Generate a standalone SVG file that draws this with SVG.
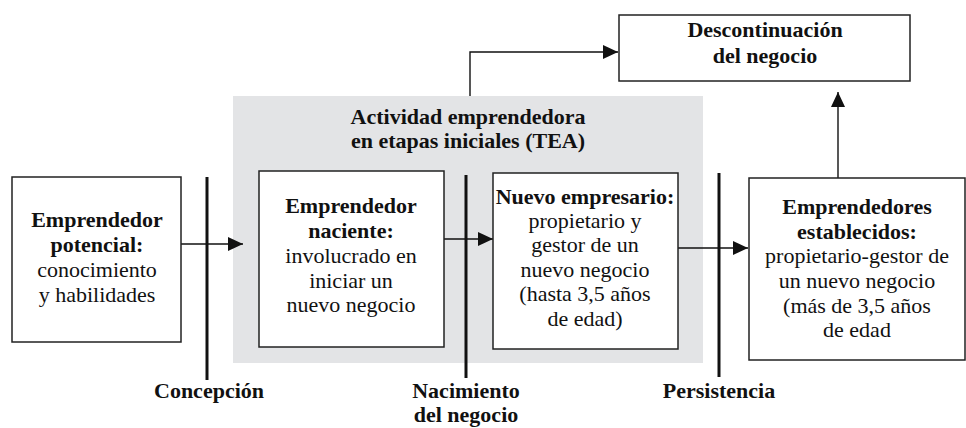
<svg xmlns="http://www.w3.org/2000/svg" width="966" height="428" viewBox="0 0 966 428">
<style>
text{font-family:'Liberation Serif',serif;font-size:22px;fill:#111;text-anchor:middle}
.b{font-weight:bold}
.box{fill:#fff;stroke:#222;stroke-width:1.5}
.bar{stroke:#111;stroke-width:3}
.con{fill:none;stroke:#111;stroke-width:1.4}
</style>
<defs>
<marker id="ah" markerUnits="userSpaceOnUse" markerWidth="16" markerHeight="14" refX="15" refY="7" orient="auto">
<path d="M0,0 L15,7 L0,14 Z" fill="#111"/>
</marker>
</defs>
<rect x="233" y="96" width="470" height="267" fill="#e3e4e6"/>
<g id="tea-title">
<text class="b" font-family="Liberation Serif" x="468" y="124">Actividad emprendedora</text>
<text class="b" font-family="Liberation Serif" x="468" y="148">en etapas iniciales (TEA)</text>
</g>
<g id="connectors">
<line class="con" x1="181" y1="244" x2="243" y2="244" marker-end="url(#ah)"/>
<line class="con" x1="444" y1="239" x2="493" y2="239" marker-end="url(#ah)"/>
<line class="con" x1="678" y1="248" x2="748" y2="248" marker-end="url(#ah)"/>
<line class="con" x1="838" y1="178" x2="838" y2="92" marker-end="url(#ah)"/>
<polyline class="con" points="470,96 470,52 618,52" marker-end="url(#ah)"/>
</g>
<g id="potencial">
<rect class="box" x="12" y="177" width="169" height="165"/>
<text class="b" font-family="Liberation Serif" x="97" y="227">Emprendedor</text>
<text class="b" font-family="Liberation Serif" x="97" y="252">potencial:</text>
<text font-family="Liberation Serif" x="97" y="277">conocimiento</text>
<text font-family="Liberation Serif" x="97" y="302">y habilidades</text>
</g>
<g id="naciente">
<rect class="box" x="259" y="171" width="185" height="176"/>
<text class="b" font-family="Liberation Serif" x="351" y="213">Emprendedor</text>
<text class="b" font-family="Liberation Serif" x="351" y="238">naciente:</text>
<text font-family="Liberation Serif" x="351" y="263">involucrado en</text>
<text font-family="Liberation Serif" x="351" y="288">iniciar un</text>
<text font-family="Liberation Serif" x="351" y="312">nuevo negocio</text>
</g>
<g id="nuevo">
<rect class="box" x="493" y="173" width="185" height="176"/>
<text class="b" font-family="Liberation Serif" x="585" y="204">Nuevo empresario:</text>
<text font-family="Liberation Serif" x="585" y="228">propietario y</text>
<text font-family="Liberation Serif" x="585" y="252">gestor de un</text>
<text font-family="Liberation Serif" x="585" y="277">nuevo negocio</text>
<text font-family="Liberation Serif" x="585" y="301">(hasta 3,5 años</text>
<text font-family="Liberation Serif" x="585" y="326">de edad)</text>
</g>
<g id="establecidos">
<rect class="box" x="749" y="178" width="216" height="182"/>
<text class="b" font-family="Liberation Serif" x="857" y="214">Emprendedores</text>
<text class="b" font-family="Liberation Serif" x="857" y="239">establecidos:</text>
<text font-family="Liberation Serif" x="857" y="263">propietario-gestor de</text>
<text font-family="Liberation Serif" x="857" y="288">un nuevo negocio</text>
<text font-family="Liberation Serif" x="857" y="313">(más de 3,5 años</text>
<text font-family="Liberation Serif" x="857" y="337">de edad</text>
</g>
<g id="descontinuacion">
<rect class="box" x="619" y="15" width="291" height="66"/>
<text class="b" font-family="Liberation Serif" x="765" y="37">Descontinuación</text>
<text class="b" font-family="Liberation Serif" x="765" y="63">del negocio</text>
</g>
<g id="concepcion">
<line class="bar" x1="207" y1="177" x2="207" y2="380"/>
<text class="b" font-family="Liberation Serif" x="209" y="398">Concepción</text>
</g>
<g id="nacimiento">
<line class="bar" x1="466" y1="175" x2="466" y2="378"/>
<text class="b" font-family="Liberation Serif" x="466" y="398">Nacimiento</text>
<text class="b" font-family="Liberation Serif" x="466" y="422">del negocio</text>
</g>
<g id="persistencia">
<line class="bar" x1="719" y1="173" x2="719" y2="377"/>
<text class="b" font-family="Liberation Serif" x="719" y="398">Persistencia</text>
</g>
</svg>
